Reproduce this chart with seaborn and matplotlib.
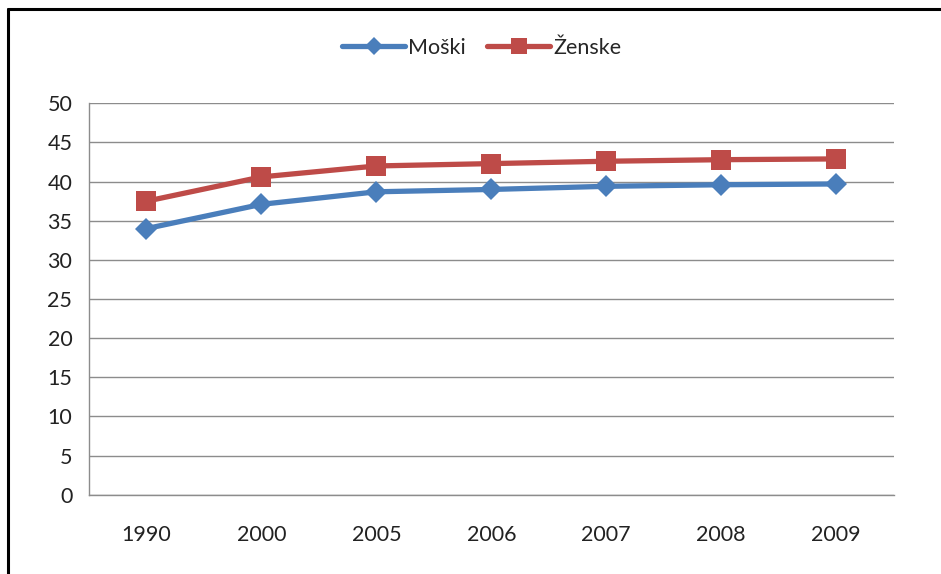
import numpy as np
import pandas as pd
import matplotlib
matplotlib.use("Agg")
import matplotlib.pyplot as plt
from matplotlib.lines import Line2D
import seaborn as sns

years = ["1990", "2000", "2005", "2006", "2007", "2008", "2009"]
moski = [34.0, 37.1, 38.7, 39.0, 39.4, 39.6, 39.7]
zenske = [37.5, 40.6, 42.0, 42.3, 42.6, 42.8, 42.9]
series_names = ["Moški", "Ženske"]
colors = ["#4A7EBB", "#BE4B48"]

df = pd.DataFrame({
    "Leto": years * 2,
    "Vrednost": moski + zenske,
    "Spol": [series_names[0]] * len(years) + [series_names[1]] * len(years),
})
df["pos"] = np.tile(np.arange(len(years)), 2)

sns.set_style("white")
plt.rcParams["font.family"] = ["Lato", "DejaVu Sans"]

fig = plt.figure(figsize=(9.41, 5.74), dpi=100)
ax = fig.add_axes([0.0946, 0.138, 0.855, 0.682])

# markers drawn per series so that diamond and square sizes match the original
for name, vals, c, m, ms in zip(series_names, [moski, zenske], colors, ["D", "s"], [11, 14]):
    sub = df[df["Spol"] == name]
    sns.lineplot(data=sub, x="pos", y="Vrednost", color=c, marker=m,
                 markersize=ms, linewidth=3.8, markeredgewidth=0,
                 ax=ax, legend=False, zorder=3)

gray = "#8C8C8C"
ax.set_ylim(0, 50)
ax.set_yticks(np.arange(0, 51, 5))
ax.set_xlim(-0.5, len(years) - 0.5)
ax.set_xticks(np.arange(len(years)))
ax.set_xticklabels(years)
ax.set_xticks(np.arange(len(years) + 1) - 0.5, minor=True)
ax.tick_params(axis="x", which="major", length=0, pad=22, labelsize=15.5, labelcolor="#222222")
ax.tick_params(axis="x", which="minor", length=8, width=1, color=gray, direction="out")
ax.tick_params(axis="y", length=8, width=1, color=gray, direction="out", pad=4,
               labelsize=15.5, labelcolor="#222222")
ax.grid(axis="y", color=gray, linewidth=1)
ax.set_axisbelow(True)
ax.set_xlabel("")
ax.set_ylabel("")
for s in ["top", "right"]:
    ax.spines[s].set_visible(False)
for s in ["left", "bottom"]:
    ax.spines[s].set_color(gray)
    ax.spines[s].set_linewidth(1)

handles = [Line2D([0], [0], color=c, marker=m, markersize=ms, linewidth=3.8, markeredgewidth=0)
           for c, m, ms in zip(colors, ["D", "s"], [9, 12])]
fig.legend(handles, series_names, loc="center", bbox_to_anchor=(0.512, 0.917), ncol=2,
           frameon=False, fontsize=15.5, handlelength=2.9, handletextpad=0.15, columnspacing=1.0)

# outer chart border (top and left visible)
fig.add_artist(Line2D([0.009, 1.0], [0.984, 0.984], color="black", linewidth=2.2, transform=fig.transFigure))
fig.add_artist(Line2D([0.009, 0.009], [0.0, 0.984], color="black", linewidth=2.2, transform=fig.transFigure))

fig.savefig("out.png", dpi=100)
